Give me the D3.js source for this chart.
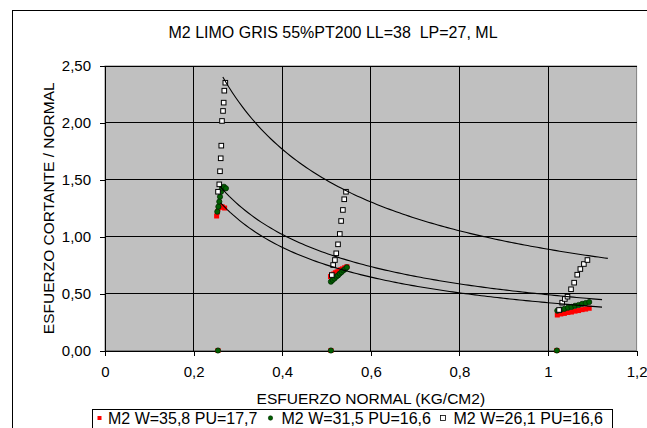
<!DOCTYPE html>
<html lang="es">
	<head>
		<meta charset="UTF-8" />
		<title>M2 LIMO GRIS</title>
		<style>
			html,
			body {
				margin: 0;
				padding: 0;
				width: 100%;
				height: 100%;
				overflow: hidden;
				background-color: #ffffff;
			}

			svg text {
				font-family: 'Liberation Sans', Arial, sans-serif;
				fill: #000;
				white-space: pre;
			}
		</style>
	</head>
	<body>
		<svg id="chart"></svg>

		<script src="https://d3js.org/d3.v7.min.js"></script>

		<script>
			// [esfuerzo normal, cortante / normal]
			const serieW358 = [
				[0.255, 0], [0.51, 0], [1.02, 0],
				[0.252, 1.182], [0.254, 1.217], [0.256, 1.252], [0.2585, 1.261], [0.262, 1.264], [0.265, 1.261], [0.27, 1.252],
				[0.509, 0.65], [0.512, 0.663], [0.516, 0.672], [0.52, 0.683], [0.524, 0.691], [0.528, 0.7], [0.532, 0.71], [0.536, 0.717], [0.541, 0.727], [0.546, 0.736],
				[1.021, 0.312], [1.029, 0.321], [1.037, 0.326], [1.045, 0.334], [1.053, 0.338], [1.061, 0.346], [1.069, 0.351], [1.077, 0.359], [1.085, 0.364], [1.093, 0.371]
			];
			const serieW315 = [
				[0.255, 0], [0.51, 0], [1.02, 0],
				[0.2535, 1.22], [0.256, 1.264], [0.258, 1.308], [0.2596, 1.351], [0.262, 1.395], [0.264, 1.425], [0.2686, 1.439], [0.273, 1.425],
				[0.51, 0.605], [0.514, 0.62], [0.518, 0.633], [0.522, 0.649], [0.526, 0.66], [0.53, 0.676], [0.534, 0.689], [0.538, 0.704], [0.542, 0.716], [0.546, 0.731],
				[1.021, 0.35], [1.029, 0.359], [1.037, 0.366], [1.045, 0.376], [1.053, 0.383], [1.061, 0.393], [1.069, 0.4], [1.077, 0.41], [1.085, 0.417], [1.093, 0.426]
			];
			const serieW261 = [
				[0.2551, 1.395], [0.258, 1.46], [0.2596, 1.575], [0.2612, 1.689], [0.2625, 1.8], [0.2641, 2.017], [0.2664, 2.105], [0.2679, 2.178], [0.2693, 2.283], [0.2716, 2.353],
				[0.512, 0.663], [0.515, 0.751], [0.519, 0.795], [0.522, 0.854], [0.526, 0.933], [0.53, 1.024], [0.533, 1.138], [0.537, 1.235], [0.54, 1.329], [0.544, 1.395],
				[1.025, 0.356], [1.032, 0.42], [1.038, 0.453], [1.044, 0.473], [1.052, 0.538], [1.059, 0.596], [1.066, 0.666], [1.073, 0.716], [1.081, 0.76], [1.089, 0.795]
			];

			// power trendlines y = a * x^b
			const trendA = [0.42, 0.49, 0.89];
			const trendB = [-0.84, -0.8, -0.75];
			const trendFrom = [0.261, 0.259, 0.266];
			const trendTo = [1.122, 1.122, 1.135];

			const xTicks = [0, 0.2, 0.4, 0.6, 0.8, 1, 1.2];
			const yTicks = [0, 0.5, 1, 1.5, 2, 2.5];
			const legendLabels = ['M2 W=35,8 PU=17,7', 'M2 W=31,5 PU=16,6', 'M2 W=26,1 PU=16,6'];

			const title = 'M2 LIMO GRIS 55%PT200 LL=38  LP=27, ML';
			const xTitle = 'ESFUERZO NORMAL (KG/CM2)';
			const yTitle = 'ESFUERZO CORTANTE / NORMAL';

			const width = 647;
			const height = 428;
			const plot = { left: 105, right: 636.6, top: 66, bottom: 350.5 };

			const svg = d3.select('#chart').attr('width', width).attr('height', height);

			// chart border (runs off the right and bottom of the picture)
			svg.append('rect')
				.attr('x', 12.5)
				.attr('y', 10.5)
				.attr('width', 700)
				.attr('height', 500)
				.attr('fill', '#fff')
				.attr('stroke', '#000');

			const x = d3.scaleLinear().domain([0, 1.2]).range([plot.left, plot.right]);
			const y = d3.scaleLinear().domain([0, 2.5]).range([plot.bottom, plot.top]);

			const comma = (d, digits) => d3.format('.' + digits + 'f')(d).replace('.', ',');

			svg.append('rect')
				.attr('x', plot.left)
				.attr('y', plot.top)
				.attr('width', plot.right - plot.left)
				.attr('height', plot.bottom - plot.top)
				.attr('fill', '#c0c0c0')
				.attr('stroke', '#808080');

			const grid = svg.append('g').attr('shape-rendering', 'crispEdges');
			grid.selectAll('line.v')
				.data(xTicks.slice(1, -1))
				.join('line')
				.attr('class', 'v')
				.attr('x1', (d) => x(d))
				.attr('x2', (d) => x(d))
				.attr('y1', plot.top)
				.attr('y2', plot.bottom)
				.attr('stroke', '#000');
			grid.selectAll('line.h')
				.data(yTicks.slice(1))
				.join('line')
				.attr('class', 'h')
				.attr('x1', plot.left)
				.attr('x2', plot.right)
				.attr('y1', (d) => y(d))
				.attr('y2', (d) => y(d))
				.attr('stroke', '#000');

			const xAxis = svg.append('g')
				.attr('transform', `translate(0,${plot.bottom})`)
				.call(d3.axisBottom(x).tickValues(xTicks).tickSize(5).tickPadding(8).tickFormat((d) => String(d).replace('.', ',')));
			const yAxis = svg.append('g')
				.attr('transform', `translate(${plot.left},0)`)
				.call(d3.axisLeft(y).tickValues(yTicks).tickSize(5).tickPadding(8).tickFormat((d) => comma(d, 2)));

			[xAxis, yAxis].forEach((g) => {
				g.attr('shape-rendering', 'crispEdges');
				g.select('.domain').attr('stroke', '#000');
				g.selectAll('.tick line').attr('stroke', '#000');
				g.selectAll('.tick text').attr('font-size', 15).attr('font-family', "'Liberation Sans', Arial, sans-serif");
			});
			xAxis.selectAll('.tick text').attr('dy', '0.9em');
			yAxis.selectAll('.tick text').attr('dx', '-1');

			// markers: red squares, green dots, hollow squares
			svg.append('g')
				.selectAll('rect')
				.data(serieW358)
				.join('rect')
				.attr('x', (d) => x(d[0]) - 2.5)
				.attr('y', (d) => y(d[1]) - 2.5)
				.attr('width', 5)
				.attr('height', 5)
				.attr('fill', '#ff0000');

			svg.append('g')
				.selectAll('circle')
				.data(serieW315)
				.join('circle')
				.attr('cx', (d) => x(d[0]))
				.attr('cy', (d) => y(d[1]))
				.attr('r', 2.6)
				.attr('fill', '#006000')
				.attr('stroke', '#002800')
				.attr('stroke-width', 0.8);

			svg.append('g')
				.selectAll('rect')
				.data(serieW261)
				.join('rect')
				.attr('x', (d) => x(d[0]) - 2.3)
				.attr('y', (d) => y(d[1]) - 2.3)
				.attr('width', 4.6)
				.attr('height', 4.6)
				.attr('fill', '#fff')
				.attr('stroke', '#000')
				.attr('stroke-width', 1);

			const line = d3.line()
				.x((d) => x(d[0]))
				.y((d) => y(d[1]));

			svg.append('g')
				.selectAll('path')
				.data(trendA.map((a, i) => {
					const step = (trendTo[i] - trendFrom[i]) / 120;
					return d3.range(121).map((k) => {
						const xv = trendFrom[i] + k * step;
						return [xv, a * Math.pow(xv, trendB[i])];
					});
				}))
				.join('path')
				.attr('d', line)
				.attr('fill', 'none')
				.attr('stroke', '#000')
				.attr('stroke-width', 1.1);

			svg.append('text')
				.attr('x', 333)
				.attr('y', 37.5)
				.attr('text-anchor', 'middle')
				.attr('font-size', 16)
				.text(title);

			svg.append('text')
				.attr('x', (plot.left + plot.right) / 2)
				.attr('y', 403.5)
				.attr('text-anchor', 'middle')
				.attr('font-size', 15.5)
				.text(xTitle);

			svg.append('text')
				.attr('transform', `translate(53.5,${(plot.top + plot.bottom) / 2}) rotate(-90)`)
				.attr('text-anchor', 'middle')
				.attr('font-size', 15.5)
				.text(yTitle);

			// legend
			const legend = svg.append('g');
			legend.append('rect')
				.attr('x', 92.5)
				.attr('y', 409.5)
				.attr('width', 520)
				.attr('height', 40)
				.attr('fill', '#fff')
				.attr('stroke', '#000');

			const legendX = [108, 281.5, 453.5];
			legend.selectAll('text')
				.data(legendLabels)
				.join('text')
				.attr('x', (d, i) => legendX[i])
				.attr('y', 424)
				.attr('font-size', 16)
				.text((d) => d);

			legend.append('rect')
				.attr('x', legendX[0] - 10.5)
				.attr('y', 416)
				.attr('width', 4)
				.attr('height', 4)
				.attr('fill', '#ff0000');
			legend.append('circle')
				.attr('cx', legendX[1] - 11)
				.attr('cy', 418)
				.attr('r', 2.2)
				.attr('fill', '#006000')
				.attr('stroke', '#002800')
				.attr('stroke-width', 0.6);
			legend.append('rect')
				.attr('x', legendX[2] - 13)
				.attr('y', 415.5)
				.attr('width', 5)
				.attr('height', 5)
				.attr('fill', '#fff')
				.attr('stroke', '#000')
				.attr('stroke-width', 0.8);
		</script>
	</body>
</html>
